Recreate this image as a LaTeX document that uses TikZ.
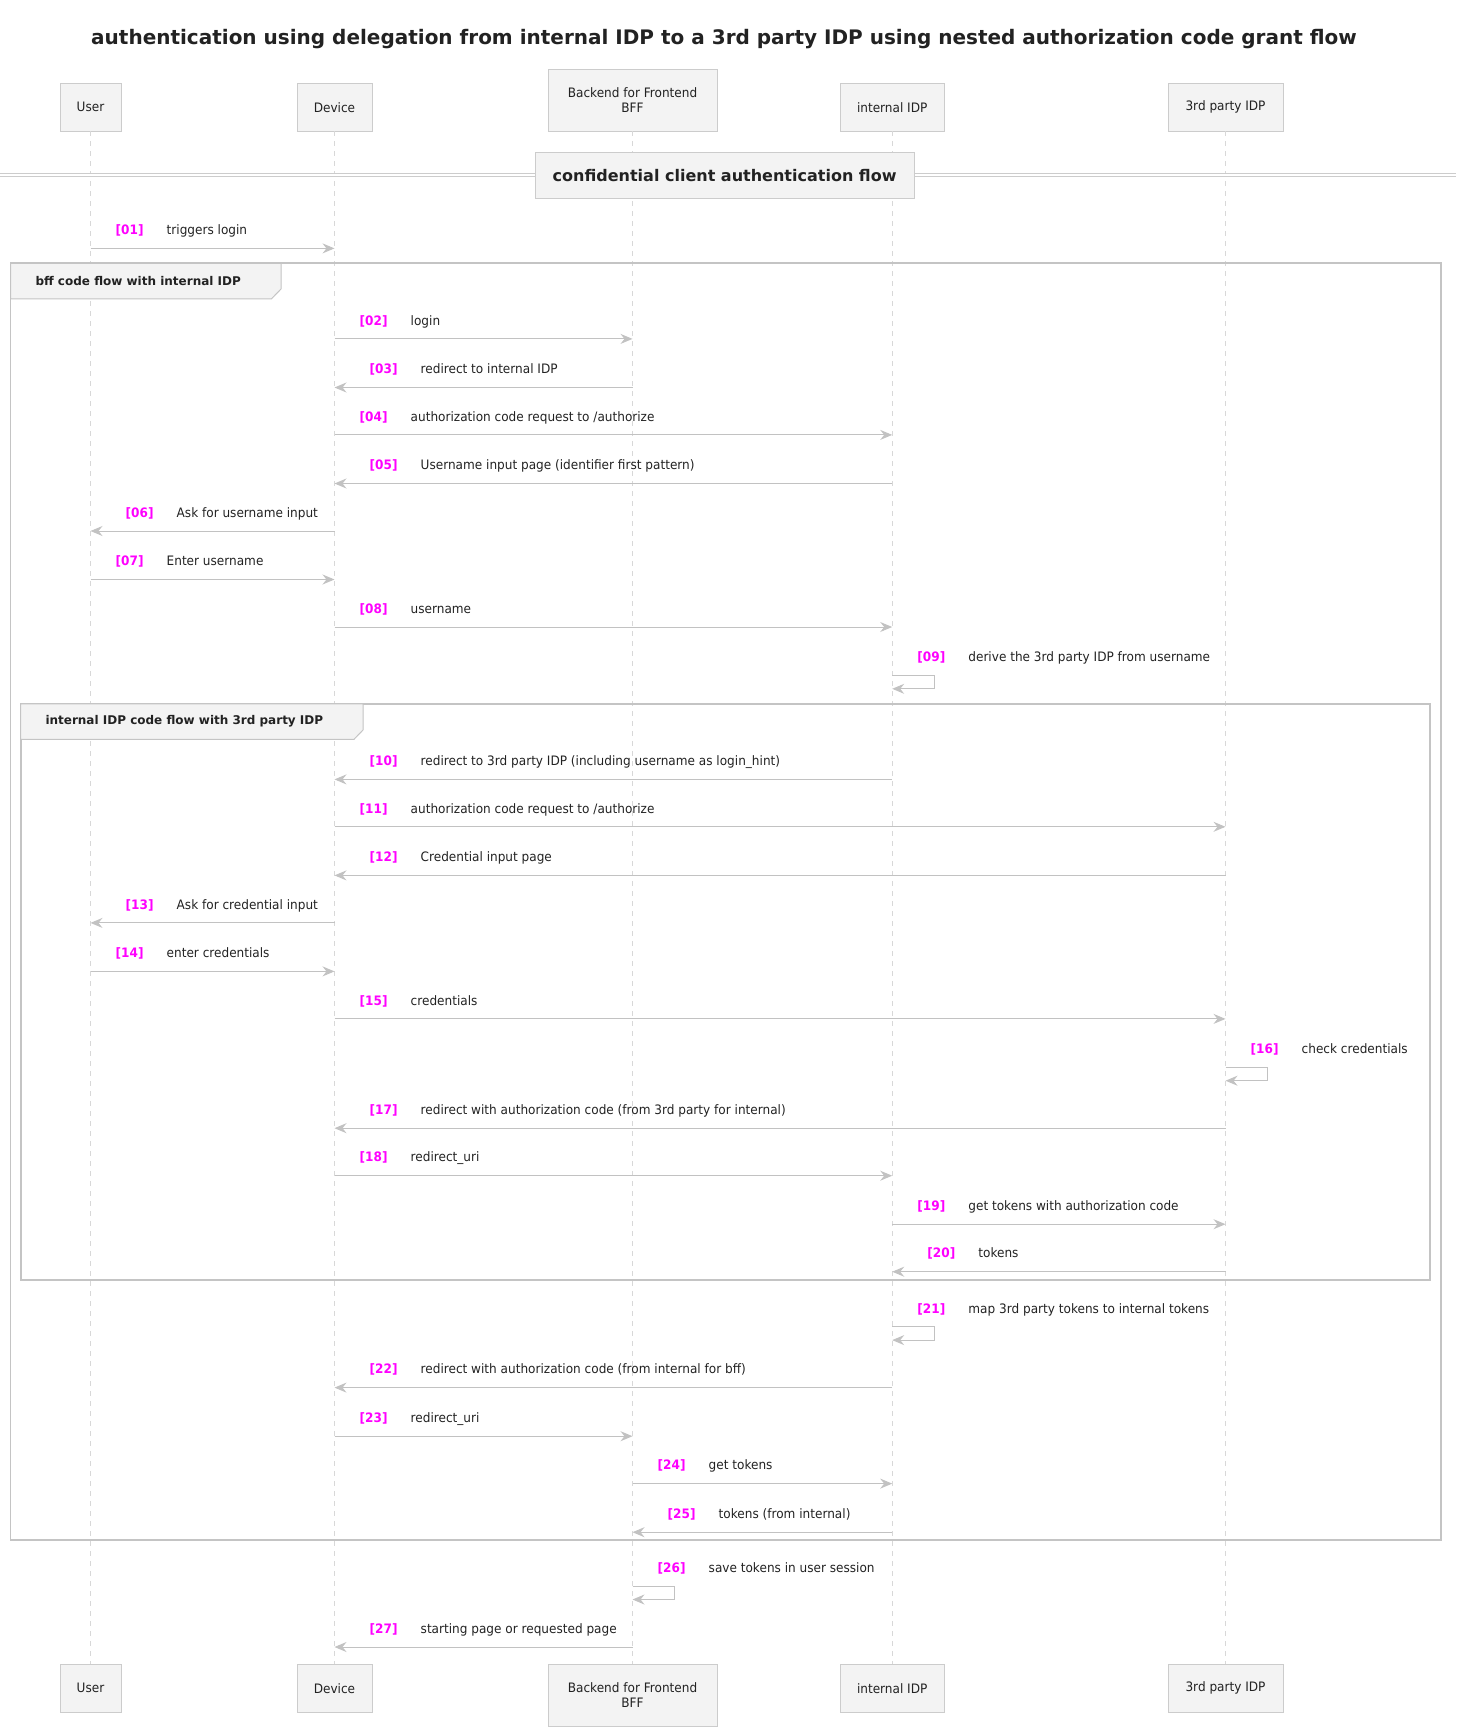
\documentclass[tikz,border=0pt]{standalone}
\usepackage{fontspec}
\setmainfont{DejaVu Sans}
\newfontfamily\seqfont[FakeStretch=0.93]{DejaVu Sans}
\usetikzlibrary{arrows.meta,calc,positioning}
\definecolor{seqfill}{HTML}{F3F3F3}
\definecolor{seqborder}{HTML}{CCCCCC}
\definecolor{seqarrow}{HTML}{C2C2C2}
\definecolor{seqlife}{HTML}{D8D8D8}
\definecolor{seqframe}{HTML}{C4C4C4}
\definecolor{seqtext}{HTML}{222222}
\definecolor{seqnum}{HTML}{FF00FF}
\tikzset{
  seq title/.style={font=\bfseries\fontsize{20}{22}\selectfont,text=seqtext},
  seq actor/.style={draw=seqborder,fill=seqfill,text=seqtext,font=\seqfont\fontsize{13}{15.5}\selectfont,align=center,minimum height=48pt,inner sep=2pt},
  seq lifeline/.style={seqlife,dash pattern=on 5pt off 5pt,line width=0.8pt},
  seq msg/.style={seqarrow,line width=1pt,-{Stealth[length=12pt,width=10pt,inset=4pt]}},
  seq num/.style={font=\seqfont\bfseries\fontsize{13}{15}\selectfont,text=seqnum,anchor=base west,inner sep=0pt},
  seq label/.style={font=\seqfont\fontsize{13}{15}\selectfont,text=seqtext,anchor=base west,inner sep=0pt},
  seq frame/.style={seqframe,line width=1.7pt},
  seq tab/.style={draw=seqframe,line width=1pt,fill=seqfill},
  seq tab label/.style={font=\bfseries\fontsize{12}{14}\selectfont,text=seqtext,anchor=west,inner sep=0pt},
  seq divider/.style={draw=seqborder,fill=seqfill,text=seqtext,font=\bfseries\fontsize{16}{18}\selectfont,minimum width=379pt,minimum height=46pt}
}
% message helpers: from, to, row, number, text
\newcommand{\seqright}[5]{%
  \draw[seq msg] (#1 |- #3) -- (#2 |- #3);
  \node[seq num] (n#4) at ($(#1 |- #3)+(25,-13.8)$) {[#4]};
  \node[seq label] (t#4) at ($(#1 |- #3)+(76,-13.8)$) {#5};}
\newcommand{\seqleft}[5]{%
  \draw[seq msg] (#1 |- #3) -- (#2 |- #3);
  \node[seq num] (n#4) at ($(#2 |- #3)+(35,-13.8)$) {[#4]};
  \node[seq label] (t#4) at ($(#2 |- #3)+(86,-13.8)$) {#5};}
% self message: who, row, number, text
\newcommand{\seqself}[4]{%
  \draw[seq msg] (#1 |- #2) -- ++(42,0) -- ++(0,13.2) -- ++(-42,0);
  \node[seq num] (n#3) at ($(#1 |- #2)+(25,-13.8)$) {[#3]};
  \node[seq label] (t#3) at ($(#1 |- #2)+(76,-13.8)$) {#4};}

\begin{document}
\begin{tikzpicture}[x=1pt,y=-1pt]
\useasboundingbox (0,0) rectangle (1456,1731);
\node[seq title] (title) at (724,39) {authentication using delegation from internal IDP to a 3rd party IDP using nested authorization code grant flow};

% participants
\node[seq actor,anchor=south,minimum width=61pt] (user) at (90.5,131.4) {User};
\node[seq actor,anchor=south,minimum width=75.5pt] (dev) at (334.5,131.4) {Device};
\node[seq actor,anchor=south,minimum width=169pt,minimum height=62pt] (bff) at (632.5,131.4) {Backend for Frontend\\BFF};
\node[seq actor,anchor=south,minimum width=104.5pt] (iidp) at (892.2,131.4) {internal IDP};
\node[seq actor,anchor=south,minimum width=114.5pt] (tidp) at (1225.5,131.4) {3rd party IDP};
\node[seq actor,anchor=north,minimum width=61pt] (user-foot) at (90.5,1664) {User};
\node[seq actor,anchor=north,minimum width=75.5pt] (dev-foot) at (334.5,1664) {Device};
\node[seq actor,anchor=north,minimum width=169pt,minimum height=62pt] (bff-foot) at (632.5,1664) {Backend for Frontend\\BFF};
\node[seq actor,anchor=north,minimum width=104.5pt] (iidp-foot) at (892.2,1664) {internal IDP};
\node[seq actor,anchor=north,minimum width=114.5pt] (tidp-foot) at (1225.5,1664) {3rd party IDP};
\foreach \p in {user,dev,bff,iidp,tidp}
  \draw[seq lifeline] (\p.south) -- (\p-foot.north);

% rows
\foreach \n/\y in {01/248.4,02/338.9,03/387.5,04/434.9,05/483.5,06/531,07/579.5,08/627,09/675.6,
  10/779.4,11/826.8,12/875.4,13/922.9,14/971.4,15/1018.9,16/1067.5,17/1128.2,18/1175.7,19/1224.2,
  20/1271.7,21/1326.9,22/1387.6,23/1436.2,24/1483.6,25/1532.2,26/1586.3,27/1647}
  \coordinate (r\n) at (0,\y);

% divider
\draw[draw=seqborder,double=white,double distance=2.4pt,line width=0.7pt] (0,175.3) -- (1456,175.3);
\node[seq divider] (divider) at (724.6,175.3) {confidential client authentication flow};

% groups
\draw[seq frame] (10.5,263.3) rectangle (1440.7,1540);
\draw[seq tab] (10.5,263.3) -- (281,263.3) -- (281,289) -- (271.5,298.8) -- (10.5,298.8) -- cycle;
\node[seq tab label] (outer) at (35.3,281) {bff code flow with internal IDP};
\draw[seq frame] (20.7,703.8) rectangle (1430.3,1280);
\draw[seq tab] (20.7,703.8) -- (363,703.8) -- (363,730) -- (354,739.3) -- (20.7,739.3) -- cycle;
\node[seq tab label] (inner) at (45.3,721.5) {internal IDP code flow with 3rd party IDP};

% messages
\seqright{user}{dev}{r01}{01}{triggers login}
\seqright{dev}{bff}{r02}{02}{login}
\seqleft{bff}{dev}{r03}{03}{redirect to internal IDP}
\seqright{dev}{iidp}{r04}{04}{authorization code request to /authorize}
\seqleft{iidp}{dev}{r05}{05}{Username input page (identifier first pattern)}
\seqleft{dev}{user}{r06}{06}{Ask for username input}
\seqright{user}{dev}{r07}{07}{Enter username}
\seqright{dev}{iidp}{r08}{08}{username}
\seqself{iidp}{r09}{09}{derive the 3rd party IDP from username}
\seqleft{iidp}{dev}{r10}{10}{redirect to 3rd party IDP (including username as login\_hint)}
\seqright{dev}{tidp}{r11}{11}{authorization code request to /authorize}
\seqleft{tidp}{dev}{r12}{12}{Credential input page}
\seqleft{dev}{user}{r13}{13}{Ask for credential input}
\seqright{user}{dev}{r14}{14}{enter credentials}
\seqright{dev}{tidp}{r15}{15}{credentials}
\seqself{tidp}{r16}{16}{check credentials}
\seqleft{tidp}{dev}{r17}{17}{redirect with authorization code (from 3rd party for internal)}
\seqright{dev}{iidp}{r18}{18}{redirect\_uri}
\seqright{iidp}{tidp}{r19}{19}{get tokens with authorization code}
\seqleft{tidp}{iidp}{r20}{20}{tokens}
\seqself{iidp}{r21}{21}{map 3rd party tokens to internal tokens}
\seqleft{iidp}{dev}{r22}{22}{redirect with authorization code (from internal for bff)}
\seqright{dev}{bff}{r23}{23}{redirect\_uri}
\seqright{bff}{iidp}{r24}{24}{get tokens}
\seqleft{iidp}{bff}{r25}{25}{tokens (from internal)}
\seqself{bff}{r26}{26}{save tokens in user session}
\seqleft{bff}{dev}{r27}{27}{starting page or requested page}
\end{tikzpicture}
\end{document}
